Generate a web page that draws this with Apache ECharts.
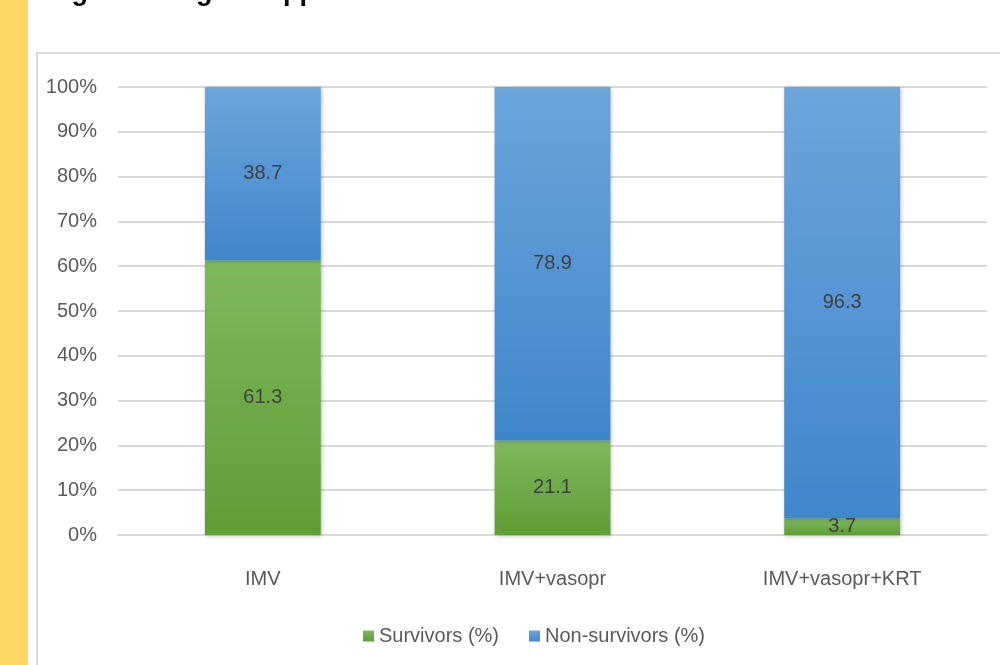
<!DOCTYPE html>
<html>
<head>
<meta charset="utf-8">
<script src="https://cdn.jsdelivr.net/npm/echarts@6/dist/echarts.min.js"></script>
<style>
  html, body { margin: 0; padding: 0; background: #fff; }
  #chart { width: 1000px; height: 665px; }
</style>
</head>
<body>
<div id="chart"></div>
<script>
// data
var categories = ["IMV", "IMV+vasopr", "IMV+vasopr+KRT"];
var survivors = [61.3, 21.1, 3.7];
var nonSurvivors = [38.7, 78.9, 96.3];
var seriesNames = ["Survivors (%)", "Non-survivors (%)"];

var font = "'Liberation Sans Narrow', 'Liberation Sans', sans-serif";

var myChart = echarts.init(document.getElementById("chart"));

function grad(top, bottom) {
  return new echarts.graphic.LinearGradient(0, 0, 0, 1, [
    { offset: 0, color: top },
    { offset: 1, color: bottom }
  ]);
}

myChart.setOption({
  animation: false,
  color: ["#70AD47", "#5B9BD5"],
  graphic: [
    // yellow strip on the slide
    { type: "rect", left: 0, top: 0, shape: { width: 28, height: 665 }, style: { fill: "#FED766" }, z: -10 },
    // chart panel
    { type: "rect", left: 36, top: 52, shape: { width: 1000, height: 700 },
      style: { fill: "#fff", stroke: "#D9D9D9", lineWidth: 2 }, z: -10 },
    // cut-off heading
    { type: "text", left: 40, top: -21,
      style: { text: "degree of organ support:", fontSize: 27, fontWeight: "bold",
               fontFamily: "'Liberation Sans', Arial, sans-serif", fill: "#000" } }
  ],
  grid: { left: 118, right: 13, top: 87, bottom: 130 },
  legend: {
    bottom: 14,
    left: 358,
    itemWidth: 11,
    itemHeight: 11,
    itemGap: 30,
    icon: "rect",
    textStyle: { fontFamily: font, fontSize: 20, color: "#595959" },
    data: seriesNames
  },
  xAxis: {
    type: "category",
    data: categories,
    axisLine: { lineStyle: { color: "#D9D9D9", width: 2 } },
    axisTick: { show: false },
    axisLabel: { fontFamily: font, fontSize: 20, color: "#595959", margin: 34 }
  },
  yAxis: {
    type: "value",
    min: 0,
    max: 100,
    interval: 10,
    axisLine: { show: false },
    axisTick: { show: false },
    splitLine: { lineStyle: { color: "#D9D9D9", width: 2 } },
    axisLabel: { formatter: "{value}%", fontFamily: font, fontSize: 20, color: "#595959", margin: 21 }
  },
  series: [
    {
      name: seriesNames[0],
      type: "bar",
      stack: "total",
      barWidth: "40%",
      data: survivors,
      itemStyle: {
        color: grad("#7EB85C", "#5E9E34"),
        shadowColor: "rgba(0,0,0,0.25)",
        shadowBlur: 4,
        shadowOffsetX: 1,
        shadowOffsetY: 1
      },
      label: {
        show: true,
        position: "inside",
        fontFamily: font,
        fontSize: 20,
        color: "#404040"
      }
    },
    {
      name: seriesNames[1],
      type: "bar",
      stack: "total",
      data: nonSurvivors,
      itemStyle: {
        color: grad("#6CA4DC", "#3F87CB"),
        shadowColor: "rgba(0,0,0,0.25)",
        shadowBlur: 4,
        shadowOffsetX: 1,
        shadowOffsetY: 1
      },
      label: {
        show: true,
        position: "inside",
        fontFamily: font,
        fontSize: 20,
        color: "#404040"
      }
    }
  ]
});
</script>
</body>
</html>
